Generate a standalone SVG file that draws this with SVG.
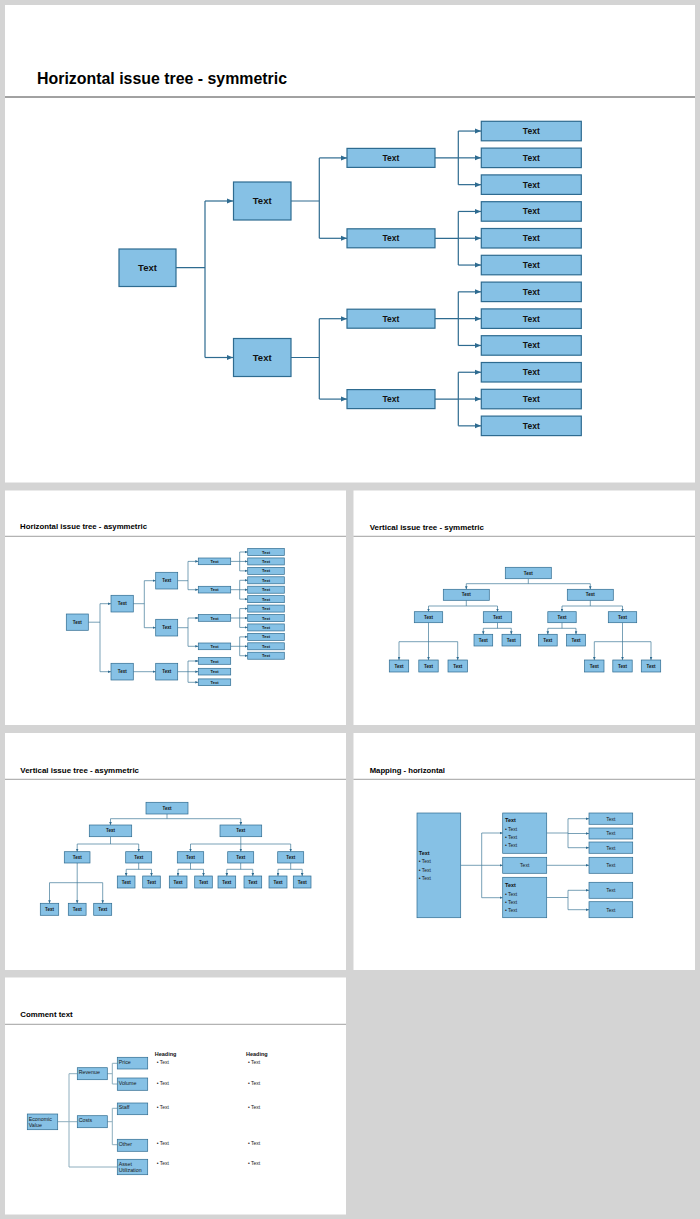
<svg xmlns="http://www.w3.org/2000/svg" width="700" height="1219" viewBox="0 0 700 1219">
<defs>
<style>
.bg{fill:#d4d4d4}
.panel{fill:#ffffff}
.rule{stroke:#444;stroke-width:1}
.srule{stroke:#888;stroke-width:0.8}
.title{font-family:"Liberation Sans",Arial,sans-serif;font-weight:bold;fill:#000}
.box{fill:#86c1e5;stroke:#2e6b90;stroke-width:1.2}
.sbox{fill:#86c1e5;stroke:#2e6b90;stroke-width:0.7}
.t{font-family:"Liberation Sans",Arial,sans-serif;font-weight:bold;fill:#111;text-anchor:middle}
.n{font-family:"Liberation Sans",Arial,sans-serif;fill:#1a1a1a}
.b{font-family:"Liberation Sans",Arial,sans-serif;font-weight:bold;fill:#111}
.c{fill:none;stroke:#2e6b90;stroke-width:1.2}
.sc{fill:none;stroke:#3f7898;stroke-width:0.7}
.lc{fill:none;stroke:#8eaebe;stroke-width:1}
</style>
<marker id="ar" markerUnits="userSpaceOnUse" markerWidth="6" markerHeight="6" refX="6" refY="3" orient="auto"><path d="M0,0.5 L6,3 L0,5.5 z" fill="#2e6b90"/></marker>
<marker id="sa" markerUnits="userSpaceOnUse" markerWidth="3" markerHeight="3" refX="3" refY="1.5" orient="auto"><path d="M0,0.2 L3,1.5 L0,2.8 z" fill="#2e6b90"/></marker>
</defs>
<rect class="bg" x="0" y="0" width="700" height="1219"/>
<rect class="panel" x="5" y="5" width="690" height="477.5"/>
<rect class="panel" x="5" y="490.5" width="341" height="234.5"/>
<rect class="panel" x="353.5" y="490.5" width="341.5" height="234.5"/>
<rect class="panel" x="5" y="733" width="341" height="237"/>
<rect class="panel" x="353.5" y="733" width="341.5" height="237"/>
<rect class="panel" x="5" y="977.5" width="341" height="237"/>

<!-- Slide 1 -->
<text class="title" x="37" y="84" font-size="16" textLength="250" lengthAdjust="spacingAndGlyphs">Horizontal  issue tree  - symmetric</text>
<line class="rule" x1="5" y1="97" x2="695" y2="97"/>
<g id="s1-connectors">
<path class="c" d="M176,267.7 H205 M205,201 V357.5"/>
<path class="c" d="M205,201 H233" marker-end="url(#ar)"/>
<path class="c" d="M205,357.5 H233" marker-end="url(#ar)"/>
<path class="c" d="M291,201 H319.3 M319.3,157.9 V238.3"/>
<path class="c" d="M319.3,157.9 H347" marker-end="url(#ar)"/>
<path class="c" d="M319.3,238.3 H347" marker-end="url(#ar)"/>
<path class="c" d="M291,357.5 H319.3 M319.3,318.7 V399.1"/>
<path class="c" d="M319.3,318.7 H347" marker-end="url(#ar)"/>
<path class="c" d="M319.3,399.1 H347" marker-end="url(#ar)"/>
<path class="c" d="M435,157.9 H458.3 M458.3,131.05 V184.65"/>
<path class="c" d="M458.3,131.05 H481" marker-end="url(#ar)"/>
<path class="c" d="M458.3,157.85 H481" marker-end="url(#ar)"/>
<path class="c" d="M458.3,184.65 H481" marker-end="url(#ar)"/>
<path class="c" d="M435,238.3 H458.3 M458.3,211.45 V265.05"/>
<path class="c" d="M458.3,211.45 H481" marker-end="url(#ar)"/>
<path class="c" d="M458.3,238.25 H481" marker-end="url(#ar)"/>
<path class="c" d="M458.3,265.05 H481" marker-end="url(#ar)"/>
<path class="c" d="M435,318.7 H458.3 M458.3,291.85 V345.45"/>
<path class="c" d="M458.3,291.85 H481" marker-end="url(#ar)"/>
<path class="c" d="M458.3,318.65 H481" marker-end="url(#ar)"/>
<path class="c" d="M458.3,345.45 H481" marker-end="url(#ar)"/>
<path class="c" d="M435,399.1 H458.3 M458.3,372.25 V425.85"/>
<path class="c" d="M458.3,372.25 H481" marker-end="url(#ar)"/>
<path class="c" d="M458.3,399.05 H481" marker-end="url(#ar)"/>
<path class="c" d="M458.3,425.85 H481" marker-end="url(#ar)"/>
</g>
<g id="s1-root"><rect class="box" x="119" y="249" width="57" height="37.5"/><text class="t" x="147.5" y="271.2" font-size="9.5">Text</text></g>
<g id="s1-l1a"><rect class="box" x="233.5" y="182" width="57.5" height="38"/><text class="t" x="262.2" y="204.3" font-size="9.5">Text</text></g>
<g id="s1-l1b"><rect class="box" x="233.5" y="338.5" width="57.5" height="38"/><text class="t" x="262.2" y="360.8" font-size="9.5">Text</text></g>
<g id="s1-l2a"><rect class="box" x="347" y="148.4" width="88" height="19"/><text class="t" x="391" y="160.9" font-size="8.5">Text</text></g>
<g id="s1-l2b"><rect class="box" x="347" y="228.8" width="88" height="19"/><text class="t" x="391" y="241.3" font-size="8.5">Text</text></g>
<g id="s1-l2c"><rect class="box" x="347" y="309.2" width="88" height="19"/><text class="t" x="391" y="321.7" font-size="8.5">Text</text></g>
<g id="s1-l2d"><rect class="box" x="347" y="389.6" width="88" height="19"/><text class="t" x="391" y="402.1" font-size="8.5">Text</text></g>
<g id="s1-l3-1"><rect class="box" x="481.3" y="121.3" width="100" height="19.5"/><text class="t" x="531.3" y="134.05" font-size="8.5">Text</text></g>
<g id="s1-l3-2"><rect class="box" x="481.3" y="148.1" width="100" height="19.5"/><text class="t" x="531.3" y="160.85" font-size="8.5">Text</text></g>
<g id="s1-l3-3"><rect class="box" x="481.3" y="174.9" width="100" height="19.5"/><text class="t" x="531.3" y="187.65" font-size="8.5">Text</text></g>
<g id="s1-l3-4"><rect class="box" x="481.3" y="201.7" width="100" height="19.5"/><text class="t" x="531.3" y="214.45" font-size="8.5">Text</text></g>
<g id="s1-l3-5"><rect class="box" x="481.3" y="228.5" width="100" height="19.5"/><text class="t" x="531.3" y="241.25" font-size="8.5">Text</text></g>
<g id="s1-l3-6"><rect class="box" x="481.3" y="255.3" width="100" height="19.5"/><text class="t" x="531.3" y="268.05" font-size="8.5">Text</text></g>
<g id="s1-l3-7"><rect class="box" x="481.3" y="282.1" width="100" height="19.5"/><text class="t" x="531.3" y="294.85" font-size="8.5">Text</text></g>
<g id="s1-l3-8"><rect class="box" x="481.3" y="308.9" width="100" height="19.5"/><text class="t" x="531.3" y="321.65" font-size="8.5">Text</text></g>
<g id="s1-l3-9"><rect class="box" x="481.3" y="335.7" width="100" height="19.5"/><text class="t" x="531.3" y="348.45" font-size="8.5">Text</text></g>
<g id="s1-l3-10"><rect class="box" x="481.3" y="362.5" width="100" height="19.5"/><text class="t" x="531.3" y="375.25" font-size="8.5">Text</text></g>
<g id="s1-l3-11"><rect class="box" x="481.3" y="389.3" width="100" height="19.5"/><text class="t" x="531.3" y="402.05" font-size="8.5">Text</text></g>
<g id="s1-l3-12"><rect class="box" x="481.3" y="416.1" width="100" height="19.5"/><text class="t" x="531.3" y="428.85" font-size="8.5">Text</text></g>

<!-- Slide 2 -->
<text class="title" x="20" y="529.3" font-size="8" textLength="127" lengthAdjust="spacingAndGlyphs">Horizontal  issue tree - asymmetric</text>
<line class="srule" x1="5" y1="536.3" x2="346" y2="536.3"/>
<g id="s2-connectors">
<path class="sc" d="M88.3,622.2 H100 M100,603.7 V671.7"/>
<path class="sc" d="M100,603.7 H111" marker-end="url(#sa)"/>
<path class="sc" d="M100,671.7 H111" marker-end="url(#sa)"/>
<path class="sc" d="M133.3,603.7 H144.3 M144.3,580.7 V627.7"/>
<path class="sc" d="M144.3,580.7 H155.7" marker-end="url(#sa)"/>
<path class="sc" d="M144.3,627.7 H155.7" marker-end="url(#sa)"/>
<path class="sc" d="M133.3,671.7 H155.7" marker-end="url(#sa)"/>
<path class="sc" d="M177.7,580.7 H188 M188,561.4 V589.7"/>
<path class="sc" d="M188,561.4 H198.3" marker-end="url(#sa)"/>
<path class="sc" d="M188,589.7 H198.3" marker-end="url(#sa)"/>
<path class="sc" d="M177.7,627.7 H188 M188,618 V646.3"/>
<path class="sc" d="M188,618 H198.3" marker-end="url(#sa)"/>
<path class="sc" d="M188,646.3 H198.3" marker-end="url(#sa)"/>
<path class="sc" d="M177.7,671.7 H188 M188,661 V682.3"/>
<path class="sc" d="M188,661 H198.3" marker-end="url(#sa)"/>
<path class="sc" d="M188,671.7 H198.3" marker-end="url(#sa)"/>
<path class="sc" d="M188,682.3 H198.3" marker-end="url(#sa)"/>
<path class="sc" d="M230.7,561.4 H239.7 M239.7,552 V570.86"/>
<path class="sc" d="M239.7,552 H247.7" marker-end="url(#sa)"/>
<path class="sc" d="M239.7,561.43 H247.7" marker-end="url(#sa)"/>
<path class="sc" d="M239.7,570.86 H247.7" marker-end="url(#sa)"/>
<path class="sc" d="M230.7,589.7 H239.7 M239.7,580.29 V599.15"/>
<path class="sc" d="M239.7,580.29 H247.7" marker-end="url(#sa)"/>
<path class="sc" d="M239.7,589.72 H247.7" marker-end="url(#sa)"/>
<path class="sc" d="M239.7,599.15 H247.7" marker-end="url(#sa)"/>
<path class="sc" d="M230.7,618 H239.7 M239.7,608.58 V627.44"/>
<path class="sc" d="M239.7,608.58 H247.7" marker-end="url(#sa)"/>
<path class="sc" d="M239.7,618.01 H247.7" marker-end="url(#sa)"/>
<path class="sc" d="M239.7,627.44 H247.7" marker-end="url(#sa)"/>
<path class="sc" d="M230.7,646.3 H239.7 M239.7,636.87 V655.73"/>
<path class="sc" d="M239.7,636.87 H247.7" marker-end="url(#sa)"/>
<path class="sc" d="M239.7,646.3 H247.7" marker-end="url(#sa)"/>
<path class="sc" d="M239.7,655.73 H247.7" marker-end="url(#sa)"/>
</g>
<g id="s2-root"><rect class="sbox" x="66.3" y="614" width="22" height="16.3"/><text class="t" x="77.3" y="623.7" font-size="4.5">Text</text></g>
<g id="s2-l1a"><rect class="sbox" x="111" y="595.3" width="22.3" height="16.7"/><text class="t" x="122.2" y="605.3" font-size="4.5">Text</text></g>
<g id="s2-l1b"><rect class="sbox" x="111" y="663.3" width="22.3" height="16.7"/><text class="t" x="122.2" y="673.3" font-size="4.5">Text</text></g>
<g id="s2-l2a"><rect class="sbox" x="155.7" y="572.3" width="22" height="16.7"/><text class="t" x="166.7" y="582.3" font-size="4.5">Text</text></g>
<g id="s2-l2b"><rect class="sbox" x="155.7" y="619.3" width="22" height="16.7"/><text class="t" x="166.7" y="629.3" font-size="4.5">Text</text></g>
<g id="s2-l2c"><rect class="sbox" x="155.7" y="663.3" width="22" height="16.7"/><text class="t" x="166.7" y="673.3" font-size="4.5">Text</text></g>
<g id="s2-l3-1"><rect class="sbox" x="198.3" y="558" width="32.4" height="6.7"/><text class="t" x="214.5" y="562.9" font-size="4">Text</text></g>
<g id="s2-l3-2"><rect class="sbox" x="198.3" y="586.3" width="32.4" height="6.7"/><text class="t" x="214.5" y="591.2" font-size="4">Text</text></g>
<g id="s2-l3-3"><rect class="sbox" x="198.3" y="614.6" width="32.4" height="6.7"/><text class="t" x="214.5" y="619.5" font-size="4">Text</text></g>
<g id="s2-l3-4"><rect class="sbox" x="198.3" y="643" width="32.4" height="6.7"/><text class="t" x="214.5" y="647.8" font-size="4">Text</text></g>
<g id="s2-l3-5"><rect class="sbox" x="198.3" y="657.6" width="32.4" height="6.7"/><text class="t" x="214.5" y="662.5" font-size="4">Text</text></g>
<g id="s2-l3-6"><rect class="sbox" x="198.3" y="668.3" width="32.4" height="6.7"/><text class="t" x="214.5" y="673.2" font-size="4">Text</text></g>
<g id="s2-l3-7"><rect class="sbox" x="198.3" y="678.9" width="32.4" height="6.7"/><text class="t" x="214.5" y="683.8" font-size="4">Text</text></g>
<g id="s2-l4-1"><rect class="sbox" x="247.7" y="548.5" width="36.6" height="7"/><text class="t" x="266" y="553.5" font-size="4">Text</text></g>
<g id="s2-l4-2"><rect class="sbox" x="247.7" y="557.93" width="36.6" height="7"/><text class="t" x="266" y="562.9" font-size="4">Text</text></g>
<g id="s2-l4-3"><rect class="sbox" x="247.7" y="567.36" width="36.6" height="7"/><text class="t" x="266" y="572.4" font-size="4">Text</text></g>
<g id="s2-l4-4"><rect class="sbox" x="247.7" y="576.79" width="36.6" height="7"/><text class="t" x="266" y="581.8" font-size="4">Text</text></g>
<g id="s2-l4-5"><rect class="sbox" x="247.7" y="586.22" width="36.6" height="7"/><text class="t" x="266" y="591.2" font-size="4">Text</text></g>
<g id="s2-l4-6"><rect class="sbox" x="247.7" y="595.65" width="36.6" height="7"/><text class="t" x="266" y="600.6" font-size="4">Text</text></g>
<g id="s2-l4-7"><rect class="sbox" x="247.7" y="605.08" width="36.6" height="7"/><text class="t" x="266" y="610.1" font-size="4">Text</text></g>
<g id="s2-l4-8"><rect class="sbox" x="247.7" y="614.51" width="36.6" height="7"/><text class="t" x="266" y="619.5" font-size="4">Text</text></g>
<g id="s2-l4-9"><rect class="sbox" x="247.7" y="623.94" width="36.6" height="7"/><text class="t" x="266" y="628.9" font-size="4">Text</text></g>
<g id="s2-l4-10"><rect class="sbox" x="247.7" y="633.37" width="36.6" height="7"/><text class="t" x="266" y="638.4" font-size="4">Text</text></g>
<g id="s2-l4-11"><rect class="sbox" x="247.7" y="642.8" width="36.6" height="7"/><text class="t" x="266" y="647.8" font-size="4">Text</text></g>
<g id="s2-l4-12"><rect class="sbox" x="247.7" y="652.23" width="36.6" height="7"/><text class="t" x="266" y="657.2" font-size="4">Text</text></g>

<!-- Slide 3 -->
<text class="title" x="369.7" y="529.7" font-size="8" textLength="114.3" lengthAdjust="spacingAndGlyphs">Vertical issue tree  - symmetric</text>
<line class="srule" x1="353.5" y1="536.3" x2="695" y2="536.3"/>
<g id="s3-connectors">
<path class="sc" d="M528.3,578.7 V583.7 M466.3,583.7 H590.3"/>
<path class="sc" d="M466.3,583.7 V589.3" marker-end="url(#sa)"/>
<path class="sc" d="M590.3,583.7 V589.3" marker-end="url(#sa)"/>
<path class="sc" d="M466.3,600.3 V606 M428.5,606 H497.5"/>
<path class="sc" d="M428.5,606 V611.7" marker-end="url(#sa)"/>
<path class="sc" d="M497.5,606 V611.7" marker-end="url(#sa)"/>
<path class="sc" d="M590.3,600.3 V606 M562,606 H622.5"/>
<path class="sc" d="M562,606 V611.7" marker-end="url(#sa)"/>
<path class="sc" d="M622.5,606 V611.7" marker-end="url(#sa)"/>
<path class="sc" d="M399,641.7 H457.7"/>
<path class="sc" d="M428.5,622.7 V660" marker-end="url(#sa)"/>
<path class="sc" d="M399,641.7 V660" marker-end="url(#sa)"/>
<path class="sc" d="M457.7,641.7 V660" marker-end="url(#sa)"/>
<path class="sc" d="M497.5,622.7 V628.3 M483.3,628.3 H511.3"/>
<path class="sc" d="M483.3,628.3 V634.3" marker-end="url(#sa)"/>
<path class="sc" d="M511.3,628.3 V634.3" marker-end="url(#sa)"/>
<path class="sc" d="M562,622.7 V628.3 M547.8,628.3 H576"/>
<path class="sc" d="M547.8,628.3 V634.3" marker-end="url(#sa)"/>
<path class="sc" d="M576,628.3 V634.3" marker-end="url(#sa)"/>
<path class="sc" d="M594.3,641.7 H651"/>
<path class="sc" d="M622.5,622.7 V660" marker-end="url(#sa)"/>
<path class="sc" d="M594.3,641.7 V660" marker-end="url(#sa)"/>
<path class="sc" d="M651,641.7 V660" marker-end="url(#sa)"/>
</g>
<g id="s3-root"><rect class="sbox" x="505.3" y="567.3" width="46" height="11.4"/><text class="t" x="528.3" y="574.6" font-size="4.5">Text</text></g>
<g id="s3-l1a"><rect class="sbox" x="443.3" y="589.3" width="46" height="11"/><text class="t" x="466.3" y="596.4" font-size="4.5">Text</text></g>
<g id="s3-l1b"><rect class="sbox" x="567.3" y="589.3" width="46" height="11"/><text class="t" x="590.3" y="596.4" font-size="4.5">Text</text></g>
<g id="s3-l2a"><rect class="sbox" x="414.3" y="611.7" width="28.4" height="11"/><text class="t" x="428.5" y="618.8" font-size="4.5">Text</text></g>
<g id="s3-l2b"><rect class="sbox" x="483.3" y="611.7" width="28.4" height="11"/><text class="t" x="497.5" y="618.8" font-size="4.5">Text</text></g>
<g id="s3-l2c"><rect class="sbox" x="547.8" y="611.7" width="28.4" height="11"/><text class="t" x="562" y="618.8" font-size="4.5">Text</text></g>
<g id="s3-l2d"><rect class="sbox" x="608.3" y="611.7" width="28.4" height="11"/><text class="t" x="622.5" y="618.8" font-size="4.5">Text</text></g>
<g id="s3-l3a1"><rect class="sbox" x="389.3" y="660" width="19.4" height="12"/><text class="t" x="399" y="667.6" font-size="4.5">Text</text></g>
<g id="s3-l3a2"><rect class="sbox" x="418.8" y="660" width="19.4" height="12"/><text class="t" x="428.5" y="667.6" font-size="4.5">Text</text></g>
<g id="s3-l3a3"><rect class="sbox" x="448" y="660" width="19.4" height="12"/><text class="t" x="457.7" y="667.6" font-size="4.5">Text</text></g>
<g id="s3-l3b1"><rect class="sbox" x="474" y="634.3" width="18.7" height="11.7"/><text class="t" x="483.3" y="641.8" font-size="4.5">Text</text></g>
<g id="s3-l3b2"><rect class="sbox" x="502" y="634.3" width="18.7" height="11.7"/><text class="t" x="511.3" y="641.8" font-size="4.5">Text</text></g>
<g id="s3-l3c1"><rect class="sbox" x="538.4" y="634.3" width="18.8" height="11.7"/><text class="t" x="547.8" y="641.8" font-size="4.5">Text</text></g>
<g id="s3-l3c2"><rect class="sbox" x="566.6" y="634.3" width="18.8" height="11.7"/><text class="t" x="576" y="641.8" font-size="4.5">Text</text></g>
<g id="s3-l3d1"><rect class="sbox" x="584.6" y="660" width="19.4" height="12"/><text class="t" x="594.3" y="667.6" font-size="4.5">Text</text></g>
<g id="s3-l3d2"><rect class="sbox" x="612.8" y="660" width="19.4" height="12"/><text class="t" x="622.5" y="667.6" font-size="4.5">Text</text></g>
<g id="s3-l3d3"><rect class="sbox" x="641.3" y="660" width="19.4" height="12"/><text class="t" x="651" y="667.6" font-size="4.5">Text</text></g>

<!-- Slide 4 -->
<text class="title" x="20.3" y="773" font-size="8" textLength="118.7" lengthAdjust="spacingAndGlyphs">Vertical  issue tree  - asymmetric</text>
<line class="srule" x1="5" y1="779.3" x2="346" y2="779.3"/>
<g id="s4-connectors">
<path class="sc" d="M167,814 V818.7 M110.5,818.7 H240.8"/>
<path class="sc" d="M110.5,818.7 V825" marker-end="url(#sa)"/>
<path class="sc" d="M240.8,818.7 V825" marker-end="url(#sa)"/>
<path class="sc" d="M110.5,836.7 V844 M77.2,844 H138.7"/>
<path class="sc" d="M77.2,844 V851.7" marker-end="url(#sa)"/>
<path class="sc" d="M138.7,844 V851.7" marker-end="url(#sa)"/>
<path class="sc" d="M190.5,844 H290.7"/>
<path class="sc" d="M240.8,836.7 V851.7" marker-end="url(#sa)"/>
<path class="sc" d="M190.5,844 V851.7" marker-end="url(#sa)"/>
<path class="sc" d="M290.7,844 V851.7" marker-end="url(#sa)"/>
<path class="sc" d="M49.5,882.7 H102.7"/>
<path class="sc" d="M77.2,863 V903.3" marker-end="url(#sa)"/>
<path class="sc" d="M49.5,882.7 V903.3" marker-end="url(#sa)"/>
<path class="sc" d="M102.7,882.7 V903.3" marker-end="url(#sa)"/>
<path class="sc" d="M138.7,863 V869.3 M126.2,869.3 H151.5"/>
<path class="sc" d="M126.2,869.3 V876" marker-end="url(#sa)"/>
<path class="sc" d="M151.5,869.3 V876" marker-end="url(#sa)"/>
<path class="sc" d="M190.5,863 V869.3 M178,869.3 H203.5"/>
<path class="sc" d="M178,869.3 V876" marker-end="url(#sa)"/>
<path class="sc" d="M203.5,869.3 V876" marker-end="url(#sa)"/>
<path class="sc" d="M240.7,863 V869.3 M226.8,869.3 H252.8"/>
<path class="sc" d="M226.8,869.3 V876" marker-end="url(#sa)"/>
<path class="sc" d="M252.8,869.3 V876" marker-end="url(#sa)"/>
<path class="sc" d="M290.7,863 V869.3 M278,869.3 H302.2"/>
<path class="sc" d="M278,869.3 V876" marker-end="url(#sa)"/>
<path class="sc" d="M302.2,869.3 V876" marker-end="url(#sa)"/>
</g>
<g id="s4-root"><rect class="sbox" x="146" y="802.3" width="42" height="11.7"/><text class="t" x="167" y="809.7" font-size="4.5">Text</text></g>
<g id="s4-l1a"><rect class="sbox" x="89.3" y="825" width="42.4" height="11.7"/><text class="t" x="110.5" y="832.4" font-size="4.5">Text</text></g>
<g id="s4-l1b"><rect class="sbox" x="220" y="825" width="41.7" height="11.7"/><text class="t" x="240.8" y="832.4" font-size="4.5">Text</text></g>
<g id="s4-l2a"><rect class="sbox" x="64.3" y="851.7" width="25.7" height="11.3"/><text class="t" x="77.2" y="858.9" font-size="4.5">Text</text></g>
<g id="s4-l2b"><rect class="sbox" x="125.7" y="851.7" width="26" height="11.3"/><text class="t" x="138.7" y="858.9" font-size="4.5">Text</text></g>
<g id="s4-l2c"><rect class="sbox" x="177.3" y="851.7" width="26.4" height="11.3"/><text class="t" x="190.5" y="858.9" font-size="4.5">Text</text></g>
<g id="s4-l2d"><rect class="sbox" x="227.7" y="851.7" width="26" height="11.3"/><text class="t" x="240.7" y="858.9" font-size="4.5">Text</text></g>
<g id="s4-l2e"><rect class="sbox" x="277.7" y="851.7" width="26" height="11.3"/><text class="t" x="290.7" y="858.9" font-size="4.5">Text</text></g>
<g id="s4-l3a1"><rect class="sbox" x="40.3" y="903.3" width="18.4" height="12"/><text class="t" x="49.5" y="910.9" font-size="4.5">Text</text></g>
<g id="s4-l3a2"><rect class="sbox" x="68.3" y="903.3" width="17.8" height="12"/><text class="t" x="77.2" y="910.9" font-size="4.5">Text</text></g>
<g id="s4-l3a3"><rect class="sbox" x="93.7" y="903.3" width="18" height="12"/><text class="t" x="102.7" y="910.9" font-size="4.5">Text</text></g>
<g id="s4-l3b1"><rect class="sbox" x="117.3" y="876" width="17.7" height="12"/><text class="t" x="126.2" y="883.6" font-size="4.5">Text</text></g>
<g id="s4-l3b2"><rect class="sbox" x="142.7" y="876" width="17.6" height="12"/><text class="t" x="151.5" y="883.6" font-size="4.5">Text</text></g>
<g id="s4-l3c1"><rect class="sbox" x="169.3" y="876" width="17.7" height="12"/><text class="t" x="178" y="883.6" font-size="4.5">Text</text></g>
<g id="s4-l3c2"><rect class="sbox" x="194.7" y="876" width="17.6" height="12"/><text class="t" x="203.5" y="883.6" font-size="4.5">Text</text></g>
<g id="s4-l3d1"><rect class="sbox" x="218" y="876" width="17.7" height="12"/><text class="t" x="226.8" y="883.6" font-size="4.5">Text</text></g>
<g id="s4-l3d2"><rect class="sbox" x="244" y="876" width="17.7" height="12"/><text class="t" x="252.8" y="883.6" font-size="4.5">Text</text></g>
<g id="s4-l3e1"><rect class="sbox" x="269" y="876" width="18" height="12"/><text class="t" x="278" y="883.6" font-size="4.5">Text</text></g>
<g id="s4-l3e2"><rect class="sbox" x="293.3" y="876" width="17.7" height="12"/><text class="t" x="302.2" y="883.6" font-size="4.5">Text</text></g>

<!-- Slide 5 -->
<text class="title" x="369.7" y="773" font-size="8" textLength="75.3" lengthAdjust="spacingAndGlyphs">Mapping  - horizontal</text>
<line class="srule" x1="353.5" y1="779.3" x2="695" y2="779.3"/>
<g id="s5-connectors">
<path class="sc" d="M460.7,865.3 H481.7 M481.7,833 V897.7"/>
<path class="sc" d="M481.7,833 H502.7" marker-end="url(#sa)"/>
<path class="sc" d="M481.7,865.3 H502.7" marker-end="url(#sa)"/>
<path class="sc" d="M481.7,897.7 H502.7" marker-end="url(#sa)"/>
<path class="sc" d="M546.7,833 H568 M568,818.7 V847.7"/>
<path class="sc" d="M568,818.7 H589" marker-end="url(#sa)"/>
<path class="sc" d="M568,833.5 H589" marker-end="url(#sa)"/>
<path class="sc" d="M568,847.7 H589" marker-end="url(#sa)"/>
<path class="sc" d="M546.7,865.3 H589" marker-end="url(#sa)"/>
<path class="sc" d="M546.7,897.5 H568 M568,890.3 V909.7"/>
<path class="sc" d="M568,890.3 H589" marker-end="url(#sa)"/>
<path class="sc" d="M568,909.7 H589" marker-end="url(#sa)"/>
</g>
<g id="s5-main"><rect class="sbox" x="417" y="813" width="43.7" height="104.7"/>
<text class="b" x="418.7" y="855" font-size="5.5">Text</text>
<text class="n" x="418.7" y="863.3" font-size="5">• Text</text>
<text class="n" x="418.7" y="871.7" font-size="5">• Text</text>
<text class="n" x="418.7" y="879.7" font-size="5">• Text</text></g>
<g id="s5-m1"><rect class="sbox" x="502.7" y="813" width="44" height="40.3"/>
<text class="b" x="505" y="822.3" font-size="5.5">Text</text>
<text class="n" x="505" y="830.7" font-size="5">• Text</text>
<text class="n" x="505" y="839" font-size="5">• Text</text>
<text class="n" x="505" y="847.3" font-size="5">• Text</text></g>
<g id="s5-m2"><rect class="sbox" x="502.7" y="857.3" width="44" height="16"/><text class="n" x="524.7" y="867.1" font-size="5" text-anchor="middle">Text</text></g>
<g id="s5-m3"><rect class="sbox" x="502.7" y="877.3" width="44" height="40.4"/>
<text class="b" x="505" y="887.3" font-size="5.5">Text</text>
<text class="n" x="505" y="895.7" font-size="5">• Text</text>
<text class="n" x="505" y="903.7" font-size="5">• Text</text>
<text class="n" x="505" y="912" font-size="5">• Text</text></g>
<g id="s5-r1"><rect class="sbox" x="589" y="813" width="43.7" height="11.3"/><text class="n" x="610.8" y="820.5" font-size="5" text-anchor="middle">Text</text></g>
<g id="s5-r2"><rect class="sbox" x="589" y="828" width="43.7" height="11"/><text class="n" x="610.8" y="835.3" font-size="5" text-anchor="middle">Text</text></g>
<g id="s5-r3"><rect class="sbox" x="589" y="842" width="43.7" height="11.3"/><text class="n" x="610.8" y="849.5" font-size="5" text-anchor="middle">Text</text></g>
<g id="s5-r4"><rect class="sbox" x="589" y="857.3" width="43.7" height="16"/><text class="n" x="610.8" y="867.1" font-size="5" text-anchor="middle">Text</text></g>
<g id="s5-r5"><rect class="sbox" x="589" y="882.3" width="43.7" height="16"/><text class="n" x="610.8" y="892.1" font-size="5" text-anchor="middle">Text</text></g>
<g id="s5-r6"><rect class="sbox" x="589" y="901.7" width="43.7" height="16"/><text class="n" x="610.8" y="911.5" font-size="5" text-anchor="middle">Text</text></g>

<!-- Slide 6 -->
<text class="title" x="20.3" y="1017.3" font-size="8" textLength="52.4" lengthAdjust="spacingAndGlyphs">Comment text</text>
<line class="srule" x1="5" y1="1024.3" x2="346" y2="1024.3"/>
<g id="s6-connectors">
<path class="lc" d="M57.7,1121.7 H77.3 M69,1073.7 V1167 M69,1073.7 H77.3 M69,1167 H117.3"/>
<path class="lc" d="M107.3,1073.7 H112.3 M112.3,1063.3 V1084 M112.3,1063.3 H117.3 M112.3,1084 H117.3"/>
<path class="lc" d="M107.3,1121.7 H112.3 M112.3,1108.3 V1144.7 M112.3,1108.3 H117.3 M112.3,1144.7 H117.3"/>
</g>
<g id="s6-ev"><rect class="sbox" x="27.3" y="1114" width="30.4" height="15.7"/><text class="n" x="28.7" y="1121" font-size="5.3">Economic</text><text class="n" x="28.7" y="1127.3" font-size="5.3">Value</text></g>
<g id="s6-revenue"><rect class="sbox" x="77.3" y="1067.7" width="30" height="12"/><text class="n" x="78.7" y="1074.2" font-size="5.3">Revenue</text></g>
<g id="s6-costs"><rect class="sbox" x="77.3" y="1115.7" width="30" height="12"/><text class="n" x="78.7" y="1122.2" font-size="5.3">Costs</text></g>
<g id="s6-price"><rect class="sbox" x="117.3" y="1057.3" width="30.4" height="11.7"/><text class="n" x="118.7" y="1063.9" font-size="5.3">Price</text></g>
<g id="s6-volume"><rect class="sbox" x="117.3" y="1078" width="30.4" height="12.3"/><text class="n" x="118.7" y="1085.2" font-size="5.3">Volume</text></g>
<g id="s6-staff"><rect class="sbox" x="117.3" y="1103" width="30.4" height="11.7"/><text class="n" x="118.7" y="1109.2" font-size="5.3">Staff</text></g>
<g id="s6-other"><rect class="sbox" x="117.3" y="1139.3" width="30.4" height="12"/><text class="n" x="118.7" y="1145.9" font-size="5.3">Other</text></g>
<g id="s6-asset"><rect class="sbox" x="117.3" y="1159.3" width="30.4" height="15.4"/><text class="n" x="118.7" y="1165.9" font-size="5.3">Asset</text><text class="n" x="118.7" y="1172.2" font-size="5.3">Utilization</text></g>
<g id="s6-col1">
<text class="b" x="154.7" y="1056.3" font-size="5.5">Heading</text>
<text class="n" x="156.7" y="1064" font-size="5">• Text</text>
<text class="n" x="156.7" y="1085" font-size="5">• Text</text>
<text class="n" x="156.7" y="1109" font-size="5">• Text</text>
<text class="n" x="156.7" y="1145.4" font-size="5">• Text</text>
<text class="n" x="156.7" y="1165.4" font-size="5">• Text</text>
</g>
<g id="s6-col2">
<text class="b" x="246" y="1056.3" font-size="5.5">Heading</text>
<text class="n" x="248" y="1064" font-size="5">• Text</text>
<text class="n" x="248" y="1085" font-size="5">• Text</text>
<text class="n" x="248" y="1109" font-size="5">• Text</text>
<text class="n" x="248" y="1145.4" font-size="5">• Text</text>
<text class="n" x="248" y="1165.4" font-size="5">• Text</text>
</g>
</svg>
